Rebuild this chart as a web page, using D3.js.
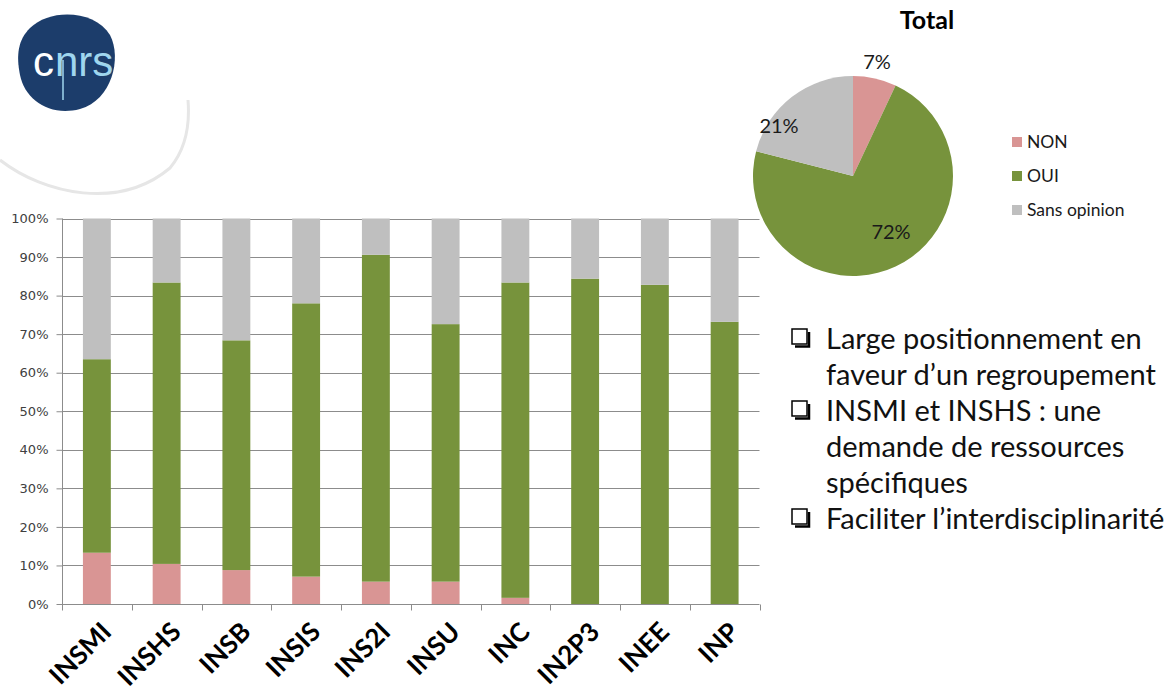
<!DOCTYPE html>
<html>
<head>
<meta charset="utf-8">
<script src="https://cdn.jsdelivr.net/npm/d3@7"></script>
<style>
  body { margin: 0; background: #fff; }
  svg { display: block; font-family: Lato, "Open Sans", sans-serif; }
</style>
</head>
<body>
<div id="chart"></div>
<script>
// stacked bars by institute + total pie
const categories = ["INSMI", "INSHS", "INSB", "INSIS", "INS2I", "INSU", "INC", "IN2P3", "INEE", "INP"];
const nonVals  = [13.3, 10.4, 8.8, 7.1, 5.8, 5.8, 1.6, 0, 0, 0];
const ouiVals  = [50.2, 73.0, 59.6, 70.9, 84.8, 66.8, 81.8, 84.4, 82.8, 73.2];
const sansVals = [36.5, 16.6, 31.6, 22.0, 9.4, 27.4, 16.6, 15.6, 17.2, 26.8];
const yTicks = [0, 10, 20, 30, 40, 50, 60, 70, 80, 90, 100];

const pieKeys = ["NON", "OUI", "Sans opinion"];
const pieVals = [7, 72, 21];

const bullets = [
  ["Large positionnement en", "faveur d\u2019un regroupement"],
  ["INSMI et INSHS : une", "demande de ressources", "sp\u00e9cifiques"],
  ["Faciliter l\u2019interdisciplinarit\u00e9"]
];

const colors = {NON: "#d99594", OUI: "#77933c", SANS: "#bfbfbf"};
const W = 1169, H = 697;
const svg = d3.select("#chart").append("svg").attr("width", W).attr("height", H);

// logo swoosh + cnrs blob
svg.append("path")
  .attr("d", "M0,160 C45,195 120,210 170,168 C185,150 190,125 188,100")
  .attr("fill", "none").attr("stroke", "#e6e6e6").attr("stroke-width", 3);
svg.append("path")
  .attr("d", "M30,28 C50,8 95,10 110,35 C122,58 112,100 80,109 C50,117 25,100 20,75 C16,55 18,40 30,28 Z")
  .attr("fill", "#1c3d6b");
svg.append("text").attr("x", 33).attr("y", 76).attr("font-size", 42)
  .attr("font-family", "Liberation Sans Narrow, Liberation Sans, sans-serif")
  .attr("fill", "#fff").text("c");
svg.append("text").attr("x", 55).attr("y", 76).attr("font-size", 42)
  .attr("font-family", "Liberation Sans Narrow, Liberation Sans, sans-serif")
  .attr("fill", "#9fd6ee").text("nrs");
svg.append("line").attr("x1", 63).attr("x2", 63).attr("y1", 60).attr("y2", 100)
  .attr("stroke", "#9fd6ee").attr("stroke-width", 1.5);

// bar chart
const x = d3.scaleBand().domain(categories).range([62, 759.5]).paddingInner(0).paddingOuter(0);
const y = d3.scaleLinear().domain([0, 100]).range([604, 218.5]);

const rows = categories.map((c, i) => ({cat: c, NON: nonVals[i], OUI: ouiVals[i], SANS: sansVals[i]}));
const stack = d3.stack().keys(["NON", "OUI", "SANS"])(rows);

const grid = svg.append("g");
grid.selectAll("line").data(yTicks.filter(t => t > 0)).join("line")
  .attr("x1", 62).attr("x2", 759.5)
  .attr("y1", d => Math.round(y(d)) + 0.5).attr("y2", d => Math.round(y(d)) + 0.5)
  .attr("stroke", "#8c8c8c").attr("stroke-width", 1);

const barW = x.bandwidth() * 0.4;
svg.append("g").selectAll("g").data(stack).join("g")
  .attr("fill", d => colors[d.key])
  .selectAll("rect").data(d => d).join("rect")
  .attr("x", d => x(d.data.cat) + (x.bandwidth() - barW) / 2)
  .attr("width", barW)
  .attr("y", d => y(d[1]))
  .attr("height", d => y(d[0]) - y(d[1]));

const yAxis = svg.append("g").attr("transform", "translate(62.5,0)")
  .call(d3.axisLeft(y).tickValues(yTicks).tickFormat(d => d + "%").tickSize(6).tickPadding(8));
yAxis.select(".domain").attr("stroke", "#8c8c8c").attr("d", "M0," + y(100) + "V" + y(0));
yAxis.selectAll(".tick line").attr("stroke", "#8c8c8c");
yAxis.selectAll(".tick text").attr("fill", "#404040").attr("font-size", 13)
  .attr("font-family", "DejaVu Sans, sans-serif");

const xAxis = svg.append("g").attr("transform", `translate(0,${Math.round(y(0)) + 0.5})`);
xAxis.append("line").attr("x1", 62).attr("x2", 759.5).attr("stroke", "#8c8c8c");
xAxis.selectAll("line.tk").data(d3.range(categories.length + 1)).join("line")
  .attr("class", "tk")
  .attr("x1", i => Math.round(62 + i * x.step()) + 0.5).attr("x2", i => Math.round(62 + i * x.step()) + 0.5)
  .attr("y1", 0).attr("y2", 6).attr("stroke", "#8c8c8c");
xAxis.selectAll("text").data(categories).join("text")
  .attr("transform", d => `translate(${x(d) + x.bandwidth() / 2 + 16},${29}) rotate(-45)`)
  .attr("text-anchor", "end")
  .attr("font-size", 26).attr("font-weight", "bold").attr("fill", "#000")
  .text(d => d);

// pie
const cx = 853, cy = 176, r = 100;
const pie = d3.pie().sort(null).value(d => d)(pieVals);
const arc = d3.arc().innerRadius(0).outerRadius(r);
const pieColors = [colors.NON, colors.OUI, colors.SANS];
const pg = svg.append("g").attr("transform", `translate(${cx},${cy})`);
pg.selectAll("path").data(pie).join("path")
  .attr("d", arc).attr("fill", (d, i) => pieColors[i]);

const labelPos = [[24, -114], [38, 56], [-74, -50]];
pg.selectAll("text").data(pie).join("text")
  .attr("x", (d, i) => labelPos[i][0]).attr("y", (d, i) => labelPos[i][1])
  .attr("dy", "0.35em")
  .attr("text-anchor", "middle").attr("font-size", 20).attr("fill", "#1a1a1a")
  .text(d => d.value + "%");

svg.append("text").attr("x", 927).attr("y", 20).attr("dy", "0.35em").attr("text-anchor", "middle")
  .attr("font-size", 25).attr("font-weight", "bold").attr("fill", "#000").text("Total");

const leg = svg.append("g").attr("transform", "translate(1012,142)");
leg.selectAll("rect").data(pieKeys).join("rect")
  .attr("x", 0).attr("y", (d, i) => i * 34 - 5).attr("width", 10).attr("height", 10)
  .attr("fill", (d, i) => pieColors[i]);
leg.selectAll("text").data(pieKeys).join("text")
  .attr("x", 15).attr("y", (d, i) => i * 34).attr("dy", "0.35em")
  .attr("font-size", 17.5).attr("fill", "#1a1a1a").text(d => d);

// bullet list
const lineH = 36;
let ly = 349;
const bl = svg.append("g");
bullets.forEach(item => {
  bl.append("rect").attr("x", 792).attr("y", ly - 20).attr("width", 15).attr("height", 15)
    .attr("fill", "#fff").attr("stroke", "#000").attr("stroke-width", 1.5);
  bl.append("path").attr("d", `M795,${ly - 2.5}H809V${ly - 17}`)
    .attr("fill", "none").attr("stroke", "#000").attr("stroke-width", 2.5);
  item.forEach(t => {
    bl.append("text").attr("x", 826).attr("y", ly).attr("font-size", 29)
      .attr("fill", "#111").text(t);
    ly += lineH;
  });
});
</script>
</body>
</html>
